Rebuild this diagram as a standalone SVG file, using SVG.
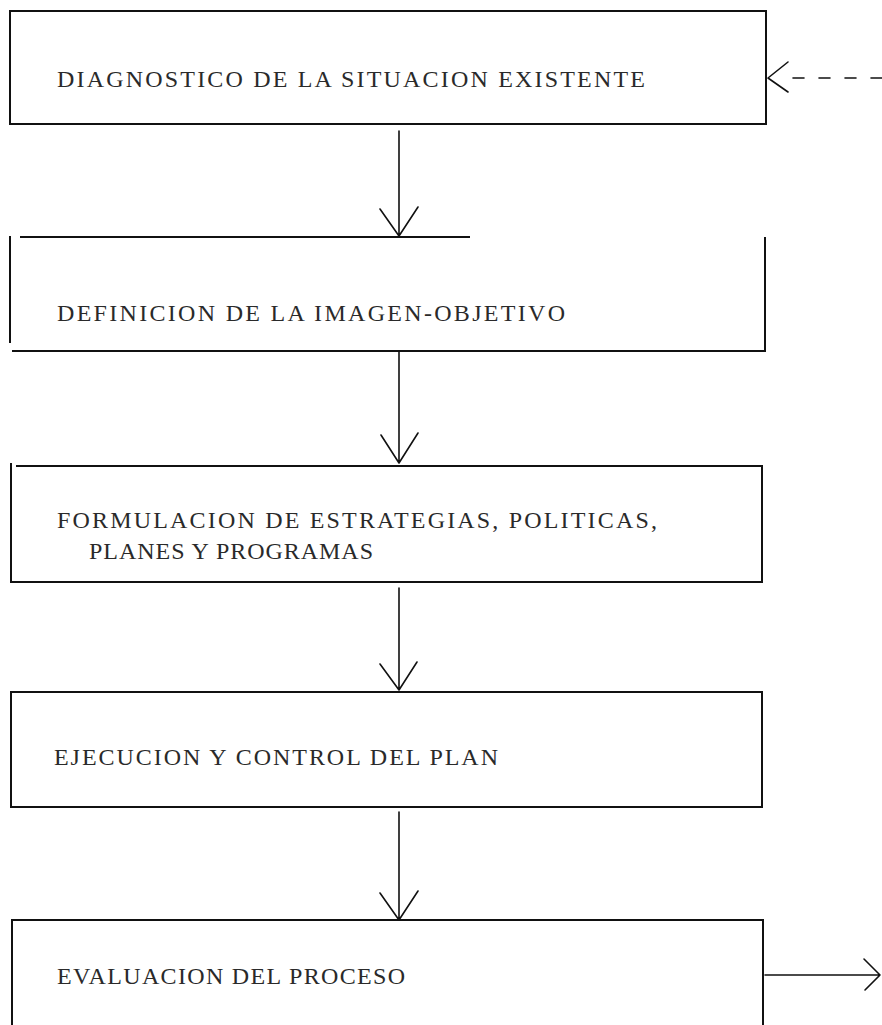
<svg xmlns="http://www.w3.org/2000/svg" width="882" height="1025" viewBox="0 0 882 1025">
<style>
.box{fill:none;stroke:#111;stroke-width:2}
.lbl{font-family:"Liberation Serif","Times New Roman",serif;font-size:24px;fill:#2a2a2a;white-space:pre}
.con{fill:none;stroke:#111;stroke-width:1.6;stroke-linecap:round;stroke-linejoin:round}
.dash{stroke-dasharray:11 15}
</style>
<rect width="882" height="1025" fill="#fff"/>
<g id="n1">
<rect class="box" x="10" y="11" width="756" height="113"/>
<text class="lbl" x="57" y="87" textLength="588" lengthAdjust="spacing">DIAGNOSTICO DE LA SITUACION EXISTENTE</text>
</g>
<g id="n2">
<path class="box" d="M20 237 H470 M765 237 V351 H12 M10 343 V236"/>
<text class="lbl" x="57" y="321" textLength="508" lengthAdjust="spacing">DEFINICION DE LA IMAGEN-OBJETIVO</text>
</g>
<g id="n3">
<path class="box" d="M11 463 V582 H762 V466 H16"/>
<text class="lbl" x="57" y="528" textLength="600" lengthAdjust="spacing">FORMULACION DE ESTRATEGIAS, POLITICAS,</text>
<text class="lbl" x="89" y="559" textLength="284" lengthAdjust="spacing">PLANES Y PROGRAMAS</text>
</g>
<g id="n4">
<rect class="box" x="11" y="692" width="751" height="115"/>
<text class="lbl" x="54" y="765" textLength="444" lengthAdjust="spacing">EJECUCION Y CONTROL DEL PLAN</text>
</g>
<g id="n5">
<path class="box" d="M12 1025 V920 H763 V1025"/>
<text class="lbl" x="57" y="984" textLength="348" lengthAdjust="spacing">EVALUACION DEL PROCESO</text>
</g>
<g id="connectors">
<path class="con" d="M399 131 V236 M380 209 L399 236 L418 207"/>
<path class="con" d="M399 352 V463 M381 435 L399 463 L418 433"/>
<path class="con" d="M399 588 V690 M380 664 L399 690 L417 662"/>
<path class="con" d="M399 812 V920 M380 893 L399 920 L418 891"/>
<path class="con" d="M788 62 L768 78 L788 92"/>
<path class="con dash" d="M793 78 H882"/>
<path class="con" d="M765 975 H880 M864 959 L880 975 L865 990"/>
</g>
</svg>
